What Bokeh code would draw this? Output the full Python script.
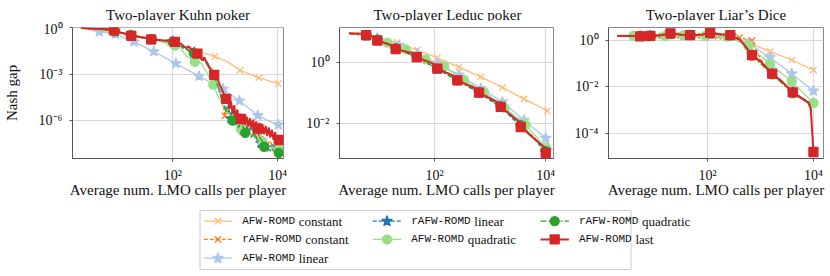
import numpy as np
from bokeh.plotting import figure
from bokeh.models import Range1d, FixedTicker, CustomJSTickFormatter
from bokeh.layouts import column, row
from bokeh.embed import file_html
from bokeh.resources import INLINE
from bokeh.core.properties import value

# ---------------- legend / series names ----------------
SERIES = ["AFW-ROMD constant", "rAFW-ROMD constant", "AFW-ROMD linear",
          "rAFW-ROMD linear", "AFW-ROMD quadratic", "rAFW-ROMD quadratic",
          "AFW-ROMD last"]
TITLES = ["Two-player Kuhn poker", "Two-player Leduc poker", "Two-player Liar\u2019s Dice"]
XLABEL = "Average num. LMO calls per player"
YLABEL = "Nash gap"

# ---------------- data (log10 of x and y) ----------------
# Kuhn poker
k_afwc_lx = [0.25, 0.55, 0.88, 1.19, 1.55, 1.96, 2.38, 2.80, 3.05, 3.28, 3.64, 4.01]
k_afwc_ly = [0.00, -0.15, -0.33, -0.38, -0.68, -0.96, -1.38, -1.85, -2.20, -2.74, -3.24, -3.61]
k_afwc_mlx = [0.88, 1.19, 1.55, 1.96, 2.38, 2.80, 3.28, 3.64, 4.01]
k_afwc_mly = [-0.33, -0.38, -0.68, -0.96, -1.38, -1.85, -2.74, -3.24, -3.61]

k_rafwc_lx = [0.25, 0.6, 0.88, 1.2, 1.6, 2.0, 2.2, 2.4, 2.55, 2.65, 2.75, 2.85, 2.92, 2.96,
              2.99, 3.02, 3.06, 3.09, 3.12, 3.16, 3.2, 3.24, 3.28, 3.3, 3.36, 3.40, 3.44, 3.48,
              3.52, 3.56, 3.60, 3.65, 3.68, 3.72, 3.76, 3.80, 3.84, 3.88, 3.92, 3.96, 4.0, 4.02]
k_rafwc_ly = [0.0, -0.1, -0.2, -0.45, -0.75, -0.9, -1.3, -1.6, -2.0, -2.2, -2.8, -3.6, -4.4, -5.0,
              -5.7, -5.1, -5.3, -5.9, -5.4, -5.6, -6.2, -5.8, -6.0, -6.4, -6.1, -6.3, -6.8, -6.4,
              -6.6, -7.1, -6.7, -7.0, -7.4, -7.0, -7.2, -7.7, -7.3, -7.5, -7.9, -7.5, -7.7, -7.8]
k_rafwc_mlx = [0.88, 1.2, 1.6, 2.0, 2.4, 2.99, 3.3, 3.65, 4.0]
k_rafwc_mly = [-0.2, -0.45, -0.75, -0.9, -1.6, -5.7, -6.4, -7.0, -7.7]

k_afwl_lx = [0.25, 0.60, 0.91, 1.26, 1.64, 2.06, 2.50, 2.96, 3.27, 3.62, 3.85, 4.01]
k_afwl_ly = [0.0, -0.25, -0.40, -0.90, -1.53, -2.30, -3.12, -3.96, -4.72, -5.67, -6.05, -6.27]
k_afwl_mlx = [0.60, 0.91, 1.26, 1.64, 2.06, 2.50, 2.96, 3.27, 3.62, 4.01]
k_afwl_mly = [-0.25, -0.40, -0.90, -1.53, -2.30, -3.12, -3.96, -4.72, -5.67, -6.27]

k_rafwl_lx = [0.25, 0.6, 0.9, 1.2, 1.6, 2.0, 2.2, 2.4, 2.55, 2.65, 2.75, 2.85, 2.93, 2.98,
              3.02, 3.05, 3.08, 3.11, 3.14, 3.18, 3.21, 3.25, 3.29, 3.33, 3.37, 3.41, 3.45, 3.49,
              3.53, 3.57, 3.61, 3.65, 3.68, 3.71, 3.74, 3.78, 3.82, 3.86, 3.9, 3.94, 3.98, 4.02]
k_rafwl_ly = [0.0, -0.08, -0.2, -0.48, -0.76, -0.88, -1.25, -1.6, -2.05, -2.25, -2.85, -3.65, -4.5, -5.0,
              -5.4, -5.0, -5.5, -5.87, -5.3, -5.7, -6.3, -5.8, -6.1, -6.6, -6.1, -6.4, -6.9, -6.4,
              -6.7, -7.2, -6.8, -7.0, -7.46, -7.0, -7.78, -7.3, -7.6, -8.0, -7.5, -7.8, -8.1, -7.9]
k_rafwl_mlx = [0.9, 1.2, 1.6, 2.0, 2.4, 3.11, 3.33, 3.68, 4.02]
k_rafwl_mly = [-0.2, -0.48, -0.76, -0.88, -1.6, -5.87, -6.6, -7.46, -7.9]

k_afwq_lx = [0.25, 0.6, 0.9, 1.19, 1.6, 2.04, 2.15, 2.25, 2.35, 2.42, 2.55, 2.65, 2.77, 2.86,
             2.99, 3.1, 3.2, 3.30, 3.40, 3.5, 3.6, 3.71, 3.8, 3.9, 4.02]
k_afwq_ly = [0.0, -0.1, -0.2, -0.44, -0.72, -1.14, -1.3, -1.8, -2.0, -2.19, -2.3, -2.9, -3.67, -4.41,
             -5.25, -5.65, -6.1, -6.5, -6.8, -6.95, -7.2, -7.36, -7.55, -7.75, -7.88]
k_afwq_mlx = [1.19, 1.6, 2.04, 2.42, 2.77, 3.30, 3.71, 4.02]
k_afwq_mly = [-0.44, -0.72, -1.14, -2.19, -3.67, -6.55, -7.36, -7.88]

k_rafwq_lx = [0.25, 0.6, 0.9, 1.2, 1.6, 2.0, 2.2, 2.4, 2.55, 2.65, 2.75, 2.85, 2.93, 2.98,
              3.02, 3.06, 3.1, 3.14, 3.18, 3.22, 3.26, 3.3, 3.34, 3.38, 3.42, 3.46, 3.5, 3.54,
              3.58, 3.62, 3.66, 3.7, 3.74, 3.78, 3.81, 3.85, 3.9, 3.94, 3.98, 4.02]
k_rafwq_ly = [0.0, -0.1, -0.22, -0.46, -0.74, -0.9, -1.3, -1.62, -2.0, -2.2, -2.8, -3.7, -4.6, -5.1,
              -5.5, -5.2, -5.7, -6.0, -5.6, -6.2, -6.5, -6.0, -6.4, -6.8, -6.4, -6.7, -7.1, -6.7,
              -7.0, -7.4, -7.1, -7.3, -7.7, -7.4, -8.0, -7.6, -7.9, -8.05, -7.8, -8.1]
k_rafwq_mlx = [0.9, 1.2, 1.6, 2.0, 2.4, 3.14, 3.38, 3.74, 4.02]
k_rafwq_mly = [-0.22, -0.46, -0.74, -0.9, -1.62, -6.0, -6.8, -7.7, -8.1]

k_last_lx = [0.25, 0.5, 0.84, 0.88, 1.0, 1.17, 1.21, 1.4, 1.55, 1.59, 1.8, 2.0, 2.04, 2.15,
             2.25, 2.3, 2.38, 2.47, 2.52, 2.56, 2.6, 2.65, 2.7, 2.75, 2.79, 2.85, 2.9, 2.95,
             3.02, 3.05, 3.08, 3.11, 3.14, 3.17, 3.20, 3.23, 3.26, 3.29, 3.32, 3.35, 3.38, 3.41,
             3.44, 3.47, 3.50, 3.53, 3.56, 3.59, 3.62, 3.65, 3.68, 3.71, 3.74, 3.77, 3.80, 3.83,
             3.86, 3.89, 3.92, 3.95, 3.98, 4.00, 4.02]
k_last_ly = [0.0, -0.05, -0.08, -0.15, -0.30, -0.42, -0.51, -0.6, -0.66, -0.74, -0.8, -0.83, -0.90, -1.0,
             -1.3, -1.2, -1.5, -1.66, -1.75, -2.1, -1.9, -2.3, -2.6, -2.75, -3.04, -3.3, -3.7, -4.1,
             -4.6, -4.40, -5.25, -4.75, -5.55, -5.00, -5.85, -5.30, -6.05, -5.55, -6.20, -5.65, -6.30, -5.75,
             -6.40, -5.85, -6.50, -5.95, -6.60, -6.05, -6.70, -6.15, -6.85, -6.25, -6.90, -6.35, -7.00, -6.45,
             -7.10, -6.60, -7.25, -6.75, -7.45, -6.95, -7.30]
k_last_mlx = [0.88, 1.21, 1.59, 2.04, 2.47, 2.79, 3.02, 3.30, 3.62, 4.02]
k_last_mly = [-0.15, -0.51, -0.74, -0.90, -1.66, -3.04, -4.6, -5.89, -6.52, -7.26]

# Leduc poker
l_afwc_lx = [0.46, 0.76, 1.33, 1.69, 2.05, 2.44, 2.83, 3.22, 3.61, 4.03]
l_afwc_ly = [0.93, 0.90, 0.63, 0.39, 0.14, -0.16, -0.48, -0.82, -1.19, -1.58]
l_afwc_mlx = [0.76, 1.33, 1.69, 2.05, 2.44, 2.83, 3.22, 3.61, 4.03]
l_afwc_mly = [0.90, 0.63, 0.39, 0.14, -0.16, -0.48, -0.82, -1.19, -1.58]

l_rafwc_lx = [0.46, 0.77, 0.97, 1.30, 1.68, 2.05, 2.41, 2.80, 3.19, 3.55, 3.8, 4.0, 4.06]
l_rafwc_ly = [0.93, 0.86, 0.72, 0.44, 0.17, -0.20, -0.58, -0.98, -1.44, -2.05, -2.45, -2.90, -3.00]
l_rafwc_mlx = [0.77, 0.97, 1.30, 1.68, 2.05, 2.41, 2.80, 3.19, 3.55, 4.0]
l_rafwc_mly = [0.86, 0.72, 0.44, 0.17, -0.20, -0.58, -0.98, -1.44, -2.05, -2.90]

l_afwl_lx = [0.46, 0.77, 0.97, 1.36, 1.69, 2.05, 2.44, 2.83, 3.22, 3.61, 4.0, 4.12]
l_afwl_ly = [0.93, 0.87, 0.77, 0.55, 0.27, -0.04, -0.41, -0.85, -1.29, -1.88, -2.46, -2.85]
l_afwl_mlx = [0.77, 0.97, 1.36, 1.69, 2.05, 2.44, 2.83, 3.22, 3.61, 4.0]
l_afwl_mly = [0.87, 0.77, 0.55, 0.27, -0.04, -0.41, -0.85, -1.29, -1.88, -2.46]

l_rafwl_lx = [0.46, 0.77, 0.97, 1.30, 1.68, 2.05, 2.41, 2.80, 3.19, 3.55, 3.8, 4.0, 4.06]
l_rafwl_ly = [0.93, 0.85, 0.71, 0.43, 0.15, -0.22, -0.60, -1.00, -1.46, -2.08, -2.50, -2.92, -3.02]
l_rafwl_mlx = [0.77, 0.97, 1.30, 1.68, 2.05, 2.41, 2.80, 3.19, 3.55, 4.0]
l_rafwl_mly = [0.85, 0.71, 0.43, 0.15, -0.22, -0.60, -1.00, -1.46, -2.08, -2.92]

l_afwq_lx = [0.46, 0.8, 1.15, 1.48, 1.84, 2.17, 2.53, 2.89, 3.26, 3.64, 4.0, 4.08]
l_afwq_ly = [0.93, 0.85, 0.63, 0.42, 0.09, -0.14, -0.58, -0.97, -1.48, -2.03, -2.77, -2.95]
l_afwq_mlx = [1.15, 1.48, 1.84, 2.17, 2.53, 2.89, 3.26, 3.64, 4.0]
l_afwq_mly = [0.63, 0.42, 0.09, -0.14, -0.58, -0.97, -1.48, -2.03, -2.77]

l_rafwq_lx = [0.46, 0.77, 0.97, 1.30, 1.68, 2.05, 2.41, 2.80, 3.19, 3.55, 3.8, 4.0, 4.06]
l_rafwq_ly = [0.93, 0.86, 0.73, 0.45, 0.16, -0.21, -0.59, -0.97, -1.43, -2.04, -2.47, -2.88, -2.98]
l_rafwq_mlx = [0.77, 0.97, 1.30, 1.68, 2.05, 2.41, 2.80, 3.19, 3.55, 4.0]
l_rafwq_mly = [0.86, 0.73, 0.45, 0.16, -0.21, -0.59, -0.97, -1.43, -2.04, -2.88]

l_last_lx = [0.46, 0.74, 0.77, 0.94, 0.97, 1.27, 1.30, 1.65, 1.68, 2.02, 2.05, 2.38, 2.41,
             2.77, 2.80, 3.16, 3.19, 3.52, 3.55, 3.97, 4.0, 4.06]
l_last_ly = [0.93, 0.92, 0.87, 0.80, 0.70, 0.52, 0.42, 0.27, 0.16, -0.08, -0.21, -0.47, -0.59,
             -0.87, -0.99, -1.32, -1.45, -1.92, -2.10, -2.75, -2.94, -3.00]
l_last_mlx = [0.77, 0.97, 1.30, 1.68, 2.05, 2.41, 2.80, 3.19, 3.55, 4.0]
l_last_mly = [0.87, 0.70, 0.42, 0.16, -0.21, -0.59, -0.99, -1.45, -2.10, -2.94]

# Liar's Dice
d_afwc_lx = [0.29, 0.60, 0.89, 1.20, 1.55, 1.96, 2.37, 2.77, 3.18, 3.59, 4.0]
d_afwc_ly = [0.20, 0.20, 0.19, 0.20, 0.20, 0.18, 0.15, -0.10, -0.47, -0.84, -1.27]
d_afwc_mlx = [0.60, 0.89, 1.20, 1.55, 1.96, 2.37, 2.77, 3.18, 3.59, 4.0]
d_afwc_mly = [0.20, 0.19, 0.20, 0.20, 0.18, 0.15, -0.10, -0.47, -0.84, -1.27]

d_rafwc_lx = [0.29, 0.70, 1.05, 1.40, 1.80, 2.20, 2.60, 2.84, 3.0, 3.22, 3.61, 3.91, 3.97]
d_rafwc_ly = [0.20, 0.20, 0.20, 0.22, 0.20, 0.18, 0.12, 0.0, -0.8, -1.45, -2.25, -2.7, -3.2]
d_rafwc_mlx = [0.70, 1.05, 1.40, 1.80, 2.20, 2.60, 2.84, 3.22, 3.61]
d_rafwc_mly = [0.20, 0.20, 0.22, 0.20, 0.18, 0.12, 0.0, -1.45, -2.25]

d_afwl_lx = [0.29, 0.60, 0.89, 1.20, 1.55, 1.96, 2.37, 2.77, 3.18, 3.59, 4.0]
d_afwl_ly = [0.20, 0.20, 0.17, 0.20, 0.20, 0.17, 0.18, -0.12, -0.73, -1.43, -2.17]
d_afwl_mlx = [0.60, 0.89, 1.20, 1.55, 1.96, 2.37, 2.77, 3.18, 3.59, 4.0]
d_afwl_mly = [0.20, 0.17, 0.20, 0.20, 0.17, 0.18, -0.12, -0.73, -1.43, -2.17]

d_rafwl_lx = [0.29, 0.73, 0.92, 1.30, 1.67, 2.05, 2.43, 2.6, 2.84, 3.22, 3.61, 3.91, 3.97]
d_rafwl_ly = [0.20, 0.19, 0.20, 0.27, 0.22, 0.28, 0.21, 0.05, -0.60, -1.40, -2.20, -2.65, -3.1]
d_rafwl_mlx = [0.73, 0.92, 1.30, 1.67, 2.05, 2.43, 2.84, 3.22, 3.61]
d_rafwl_mly = [0.19, 0.20, 0.27, 0.22, 0.28, 0.21, -0.60, -1.40, -2.20]

d_afwq_lx = [0.29, 0.60, 0.89, 1.20, 1.55, 1.96, 2.37, 2.77, 3.18, 3.59, 4.0]
d_afwq_ly = [0.20, 0.20, 0.16, 0.20, 0.23, 0.20, 0.17, -0.23, -1.00, -1.77, -2.69]
d_afwq_mlx = [0.60, 0.89, 1.20, 1.55, 1.96, 2.37, 2.77, 3.18, 3.59, 4.0]
d_afwq_mly = [0.20, 0.16, 0.20, 0.23, 0.20, 0.17, -0.23, -1.00, -1.77, -2.69]

d_rafwq_lx = [0.29, 0.73, 0.92, 1.30, 1.67, 2.05, 2.43, 2.6, 2.84, 3.22, 3.61, 3.91, 3.97]
d_rafwq_ly = [0.20, 0.20, 0.21, 0.28, 0.23, 0.30, 0.22, 0.04, -0.65, -1.46, -2.26, -2.72, -3.2]
d_rafwq_mlx = [0.73, 0.92, 1.30, 1.67, 2.05, 2.43, 2.84, 3.22, 3.61]
d_rafwq_mly = [0.20, 0.21, 0.28, 0.23, 0.30, 0.22, -0.65, -1.46, -2.26]

d_last_lx = [0.29, 0.73, 0.92, 1.10, 1.30, 1.50, 1.67, 1.90, 2.05, 2.25, 2.43, 2.60, 2.70,
             2.84, 3.00, 3.22, 3.40, 3.61, 3.75, 3.91, 3.95, 4.00]
d_last_ly = [0.20, 0.18, 0.20, 0.22, 0.31, 0.25, 0.23, 0.25, 0.33, 0.27, 0.23, 0.05, -0.20,
             -0.63, -0.90, -1.43, -1.75, -2.23, -2.45, -2.67, -2.95, -4.80]
d_last_mlx = [0.73, 0.92, 1.30, 1.67, 2.05, 2.43, 2.84, 3.22, 3.61, 4.00]
d_last_mly = [0.18, 0.20, 0.31, 0.23, 0.33, 0.23, -0.63, -1.43, -2.23, -4.80]

# axis ranges (log10) and ticks
k_xrange, k_yrange = (0.09, 4.11), (-8.46, 0.03)
l_xrange, l_yrange = (0.29, 4.14), (-3.12, 1.12)
d_xrange, d_yrange = (0.13, 4.19), (-5.08, 0.56)
x_ticks = [1e2, 1e4]
k_yticks = [1e0, 1e-3, 1e-6]
l_yticks = [1e0, 1e-2]
d_yticks = [1e0, 1e-2, 1e-4]

# ---------------- styles ----------------
COLORS = ["#ffbb78", "#ff7f0e", "#aec7e8", "#1f77b4", "#98df8a", "#2ca02c", "#d62728"]
MARKERS = ["x", "x", "star", "star", "circle", "circle", "square"]
MSIZE = [9, 9, 11, 11, 9, 9, 9]
DASHES = ["solid", "4 2", "solid", "4 2", "solid", "6 2 2 2", "solid"]
LWIDTH = [1.3, 1.3, 1.3, 1.3, 1.3, 1.3, 2.0]
LEG_COL = [0, 0, 0, 1, 1, 2, 2]
LEG_ROW = [0, 1, 2, 0, 1, 0, 1]
SERIF = "Liberation Serif"
MONO = "Liberation Mono"
TXT = "#111111"

# layout (page pixels; Bokeh's page has no body margin)
TITLE_H = 21
ROW_H = 179
LEG_H = 75
BOTTOM = 39

sup_fmt = CustomJSTickFormatter(code="""
const s = {"0":"\u2070","1":"\u00b9","2":"\u00b2","3":"\u00b3","4":"\u2074","5":"\u2075",
           "6":"\u2076","7":"\u2077","8":"\u2078","9":"\u2079","-":"\u207b"};
const e = Math.round(Math.log10(tick));
return "10" + String(e).split("").map(c => s[c]).join("");
""")


def make_panel(width, bl, br, bt, xr, yr, yticks, series, ylabel=None):
    p = figure(width=width, height=ROW_H, x_axis_type="log", y_axis_type="log",
               x_range=Range1d(10 ** xr[0], 10 ** xr[1]),
               y_range=Range1d(10 ** yr[0], 10 ** yr[1]),
               output_backend="svg", toolbar_location=None, title=None,
               min_border_left=bl, min_border_right=br, min_border_top=bt,
               min_border_bottom=BOTTOM)
    p.background_fill_color = "white"
    p.border_fill_color = "white"
    p.outline_line_color = "#888888"
    p.outline_line_width = 1
    p.xaxis.ticker = FixedTicker(ticks=x_ticks)
    p.yaxis.ticker = FixedTicker(ticks=yticks)
    p.xgrid.ticker = FixedTicker(ticks=x_ticks)
    p.ygrid.ticker = FixedTicker(ticks=yticks)
    for g in (p.xgrid, p.ygrid):
        g.grid_line_color = "#d9d9d9"
        g.grid_line_width = 1.2
    for ax in (p.xaxis, p.yaxis):
        ax.formatter = sup_fmt
        ax.axis_line_color = "#555555"
        ax.major_tick_line_color = "#555555"
        ax.major_tick_out = 3
        ax.major_tick_in = 0
        ax.minor_tick_line_color = None
        ax.major_label_text_font = SERIF
        ax.major_label_text_font_size = "14px"
        ax.major_label_text_color = TXT
        ax.axis_label_text_font = SERIF
        ax.axis_label_text_font_size = "15px"
        ax.axis_label_text_font_style = "normal"
        ax.axis_label_text_color = TXT
    p.xaxis.major_label_standoff = 6
    p.xaxis.axis_label = XLABEL
    p.xaxis.axis_label_standoff = -4
    p.yaxis.major_label_standoff = 7
    if ylabel:
        p.yaxis.axis_label = ylabel
        p.yaxis.axis_label_standoff = 16

    for i, (lx, ly, mlx, mly) in enumerate(series):
        p.line(10 ** np.array(lx), 10 ** np.array(ly), line_color=COLORS[i],
               line_width=LWIDTH[i], line_dash=DASHES[i])
        fill = None if MARKERS[i] == "x" else COLORS[i]
        p.scatter(10 ** np.array(mlx), 10 ** np.array(mly), marker=MARKERS[i],
                  size=MSIZE[i], line_color=COLORS[i], fill_color=fill, line_width=1.3)
    return p


kuhn = [(k_afwc_lx, k_afwc_ly, k_afwc_mlx, k_afwc_mly),
        (k_rafwc_lx, k_rafwc_ly, k_rafwc_mlx, k_rafwc_mly),
        (k_afwl_lx, k_afwl_ly, k_afwl_mlx, k_afwl_mly),
        (k_rafwl_lx, k_rafwl_ly, k_rafwl_mlx, k_rafwl_mly),
        (k_afwq_lx, k_afwq_ly, k_afwq_mlx, k_afwq_mly),
        (k_rafwq_lx, k_rafwq_ly, k_rafwq_mlx, k_rafwq_mly),
        (k_last_lx, k_last_ly, k_last_mlx, k_last_mly)]
leduc = [(l_afwc_lx, l_afwc_ly, l_afwc_mlx, l_afwc_mly),
         (l_rafwc_lx, l_rafwc_ly, l_rafwc_mlx, l_rafwc_mly),
         (l_afwl_lx, l_afwl_ly, l_afwl_mlx, l_afwl_mly),
         (l_rafwl_lx, l_rafwl_ly, l_rafwl_mlx, l_rafwl_mly),
         (l_afwq_lx, l_afwq_ly, l_afwq_mlx, l_afwq_mly),
         (l_rafwq_lx, l_rafwq_ly, l_rafwq_mlx, l_rafwq_mly),
         (l_last_lx, l_last_ly, l_last_mlx, l_last_mly)]
dice = [(d_afwc_lx, d_afwc_ly, d_afwc_mlx, d_afwc_mly),
        (d_rafwc_lx, d_rafwc_ly, d_rafwc_mlx, d_rafwc_mly),
        (d_afwl_lx, d_afwl_ly, d_afwl_mlx, d_afwl_mly),
        (d_rafwl_lx, d_rafwl_ly, d_rafwl_mlx, d_rafwl_mly),
        (d_afwq_lx, d_afwq_ly, d_afwq_mlx, d_afwq_mly),
        (d_rafwq_lx, d_rafwq_ly, d_rafwq_mlx, d_rafwq_mly),
        (d_last_lx, d_last_ly, d_last_mlx, d_last_mly)]

# panel frames (page x): 70-283, 339-553, 608-823; frame tops 27 / 21, bottoms 161
W1, W2, W3 = 296, 270, 263
p1 = make_panel(W1, 70, 13, 6, k_xrange, k_yrange, k_yticks, kuhn, ylabel=YLABEL)
p2 = make_panel(W2, 43, 13, 0, l_xrange, l_yrange, l_yticks, leduc)
p3 = make_panel(W3, 42, 6, 0, d_xrange, d_yrange, d_yticks, dice)
TOTAL_W = W1 + W2 + W3


def strip(height):
    s = figure(width=TOTAL_W, height=height, x_range=Range1d(0, TOTAL_W),
               y_range=Range1d(height, 0), output_backend="svg", toolbar_location=None,
               title=None, min_border=0, x_axis_location=None, y_axis_location=None)
    s.grid.visible = False
    s.outline_line_color = None
    s.background_fill_color = "white"
    s.border_fill_color = "white"
    return s


# ---------------- titles strip ----------------
pt = strip(TITLE_H)
title_cx = [(70 + 283) / 2 + 1, (339 + 553) / 2 + 1, (608 + 823) / 2]
pt.text(title_cx, [14] * 3, text=TITLES, text_font=value(SERIF), text_font_size="15px",
        text_align="center", text_baseline="alphabetic", text_color=TXT)

# ---------------- legend strip ----------------
pl = strip(LEG_H)
pl.quad(left=[199.5], right=[630.5], top=[10], bottom=[69], fill_color="white",
        line_color="#cccccc", line_width=1)
col_handle_x = [203.3, 372.3, 540]
row_y = [20.7, 38.9, 57.7]
handle_len = 28.4
text_gap = 10
mono_px = 11
serif_px = 13
for i, name in enumerate(SERIES):
    c, r = LEG_COL[i], LEG_ROW[i]
    hx0 = col_handle_x[c]
    hx1 = hx0 + handle_len
    y = row_y[r]
    pl.line([hx0, hx1], [y, y], line_color=COLORS[i], line_width=LWIDTH[i], line_dash=DASHES[i])
    fill = None if MARKERS[i] == "x" else COLORS[i]
    pl.scatter([(hx0 + hx1) / 2], [y], marker=MARKERS[i], size=MSIZE[i],
               line_color=COLORS[i], fill_color=fill, line_width=1.3)
    mono, rest = name.split(" ", 1)
    tx = hx1 + text_gap
    pl.text([tx], [y], text=[mono], text_font=value(MONO), text_font_size=f"{mono_px}px",
            text_baseline="middle", text_align="left", text_color=TXT)
    pl.text([tx + len(mono) * 0.6 * mono_px + 3.7], [y], text=[rest], text_font=value(SERIF),
            text_font_size=f"{serif_px}px", text_baseline="middle", text_align="left",
            text_color=TXT)

layout = column(pt, row(p1, p2, p3), pl)
open("out.html", "w").write(file_html(layout, INLINE))
